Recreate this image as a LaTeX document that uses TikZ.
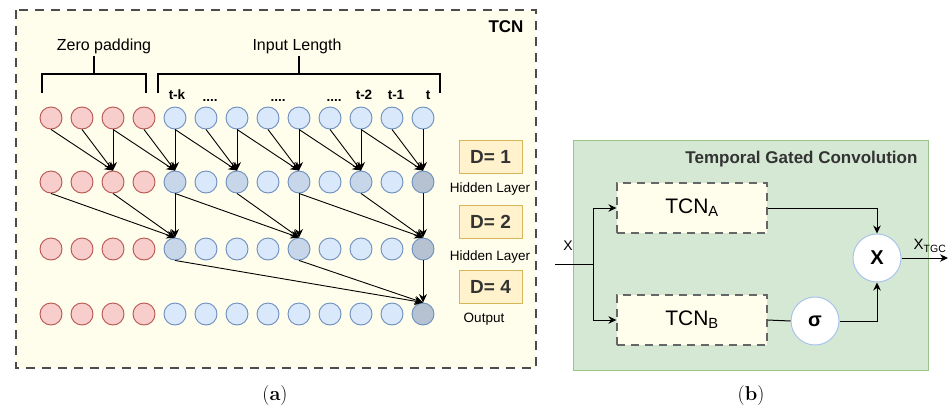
\documentclass[tikz,border=0pt]{standalone}
\usepackage{fontspec}
\setsansfont{Liberation Sans}
\usetikzlibrary{arrows.meta,positioning}
\definecolor{padred}{HTML}{F8CECC}
\definecolor{padedge}{HTML}{B85450}
\definecolor{inblue}{HTML}{DAE8FC}
\definecolor{inedge}{HTML}{6C8EBF}
\definecolor{hidblue}{HTML}{C8D6EA}
\definecolor{outblue}{HTML}{B6C2D2}
\definecolor{paper}{HTML}{FFFDEB}
\definecolor{dfill}{HTML}{FFF2CC}
\definecolor{dedge}{HTML}{D6B656}
\definecolor{gatefill}{HTML}{D5E8D4}
\definecolor{gateedge}{HTML}{9AC48A}
\definecolor{ringedge}{HTML}{A9C4EB}
\definecolor{ink}{HTML}{333333}
\newcommand{\fs}[1]{\fontsize{#1}{#1}\selectfont}
\tikzset{
  zpad/.style={circle,draw=padedge,fill=padred,line width=0.9pt,minimum size=22pt,inner sep=0pt},
  inp/.style={zpad,draw=inedge,fill=inblue},
  hid/.style={inp,fill=hidblue},
  res/.style={inp,fill=outblue},
  conv/.style={-{Stealth[length=8.5pt,width=8pt]},draw=black,line width=0.9pt},
  brace/.style={draw=black,line width=1.5pt},
  lbl/.style={font=\sffamily\fs{16},text=black},
  tlbl/.style={anchor=base,font=\sffamily\bfseries\fs{13.5},text=black},
  layer/.style={font=\sffamily\fs{13.5},text=black},
  dbox/.style={draw=dedge,fill=dfill,line width=1pt,minimum width=63pt,minimum height=33pt,inner sep=0pt,font=\sffamily\bfseries\fs{19},text=ink},
  frame/.style={draw=black!70,fill=paper,line width=1.5pt,dash pattern=on 9pt off 7pt}
}
\tikzset{
  gatebox/.style={draw=gateedge,fill=gatefill,line width=1pt},
  tcnbox/.style={draw=black!60,fill=paper,line width=1.2pt,dash pattern=on 8pt off 6pt,minimum width=150pt,minimum height=50pt,font=\sffamily\fs{21}},
  ring/.style={circle,draw=ringedge,fill=white,line width=1pt,minimum size=48pt,inner sep=0pt,font=\sffamily\bfseries\fs{20}},
  flow/.style={-{Stealth[length=8pt,width=7.5pt]},draw=black,line width=1pt}
}

\begin{document}
\begin{tikzpicture}[x=1pt,y=-1pt]
\useasboundingbox (0,0) rectangle (949,410);
% (a) TCN
\draw[frame] (16,10) rectangle (536,368);
\node[font=\sffamily\bfseries\fs{17}] (tcntitle) at (506,27) {TCN};
\draw[brace] (42,93) -- (42,74) -- (146,74) -- (146,93);
\draw[brace] (94,74) -- (94,56);
\node[lbl] (zerolbl) at (104,46) {Zero padding};
\draw[brace] (158,93) -- (158,74) -- (440,74) -- (440,93);
\draw[brace] (299,74) -- (299,56);
\node[lbl] (inlenlbl) at (297,46) {Input Length};
\node[tlbl] (tk) at (177,99) {t-k};
\node[tlbl] (dots1) at (210,101) {....};
\node[tlbl] (dots2) at (278,101) {....};
\node[tlbl] (dots3) at (334,101) {....};
\node[tlbl] (tm2) at (364,99) {t-2};
\node[tlbl] (tm1) at (396,99) {t-1};
\node[tlbl] (t0) at (428,99) {t};
\foreach \r/\y in {0/118,1/182,2/249,3/314}
  \foreach \c in {0,...,3}
    \node[zpad] (n\r-\c) at ({51+31*\c},\y) {};
\foreach \c in {4,...,12} \node[inp] (n0-\c) at ({51+31*\c},118) {};
\foreach \c in {5,7,9,11} \node[inp] (n1-\c) at ({51+31*\c},182) {};
\foreach \c in {4,6,8,10} \node[hid] (n1-\c) at ({51+31*\c},182) {};
\node[res] (n1-12) at (423,182) {};
\foreach \c in {5,6,7,9,10,11} \node[inp] (n2-\c) at ({51+31*\c},249) {};
\foreach \c in {4,8} \node[hid] (n2-\c) at ({51+31*\c},249) {};
\node[res] (n2-12) at (423,249) {};
\foreach \c in {4,...,11} \node[inp] (n3-\c) at ({51+31*\c},314) {};
\node[res] (n3-12) at (423,314) {};
% dilated connections
\foreach \t in {2,4,...,12}
  \foreach \d in {0,1,2}{
    \pgfmathtruncatemacro\s{\t-\d}
    \draw[conv] (n0-\s.south) -- (n1-\t.north);
  }
\foreach \t in {4,8,12}
  \foreach \d in {0,2,4}{
    \pgfmathtruncatemacro\s{\t-\d}
    \draw[conv] (n1-\s.south) -- (n2-\t.north);
  }
\foreach \s in {4,8,12}
  \draw[conv] (n2-\s.south) -- (n3-12.north);
\node[dbox] (d1) at (490.5,156.5) {D= 1};
\node[layer] (hid1) at (490,189) {Hidden Layer};
\node[dbox] (d2) at (490.5,221.5) {D= 2};
\node[layer] (hid2) at (490,257) {Hidden Layer};
\node[dbox] (d4) at (490.5,287) {D= 4};
\node[layer] (outlbl) at (484,319) {Output};
\node[font=\fs{20}] (capa) at (275,396) {(\textbf{a})};
% (b) gated convolution
\draw[gatebox] (573,140) rectangle (928,370);
\node[anchor=east,font=\sffamily\bfseries\fs{17},text=ink] (tgctitle) at (921,159) {Temporal Gated Convolution};
\node[tcnbox] (tcna) at (692,208) {TCN\textsubscript{A}};
\node[tcnbox] (tcnb) at (692,320) {TCN\textsubscript{B}};
\node[ring] (mul) at (877,258) {X};
\node[ring] (sig) at (815,321) {σ};
\coordinate (xin) at (555,264);
\coordinate (split) at (593,264);
\coordinate (xout) at (948,258);
\node[font=\sffamily\fs{14}] (xlbl) at (568,246) {X};
\node[font=\sffamily\fs{15}] (xtgc) at (930,246) {X\textsubscript{TGC}};
\draw[line width=1pt] (xin) -- (split);
\draw[flow] (split) |- (tcna.west);
\draw[flow] (split) |- (tcnb.west);
\draw[flow] (tcna.east) -| (mul.north);
\draw[line width=1pt] (tcnb.east) -- (sig.west);
\draw[flow] (sig.east) -| (mul.south);
\draw[flow] (mul.east) -- (xout);
\node[font=\fs{20}] (capb) at (751,396) {(\textbf{b})};
\end{tikzpicture}
\end{document}
